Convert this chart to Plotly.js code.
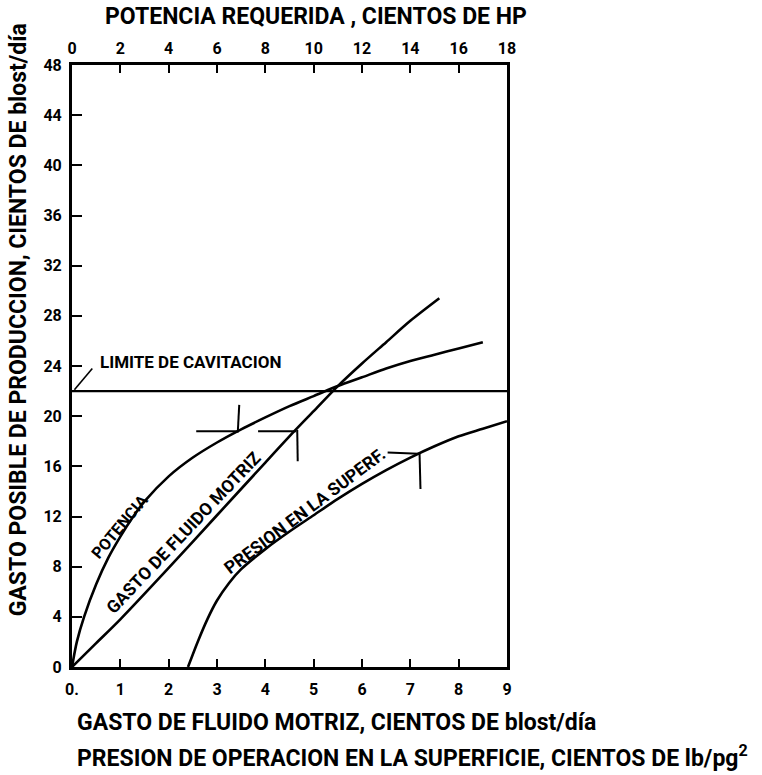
<!DOCTYPE html>
<html>
<head>
<meta charset="utf-8">
<script src="https://cdn.plot.ly/plotly-3.0.1.min.js"></script>
<style>html,body{margin:0;padding:0;background:#fff;}#chart{width:762px;height:775px;}</style>
</head>
<body>
<div id="chart"></div>
<script>
// Potencia requerida (top axis, cientos de HP) vs gasto posible
const potenciaHP = [0, 0.2, 0.5, 1.0, 1.5, 2.0, 2.5, 3.0, 4.0, 5.0, 6.0, 7.0, 8.0, 9.0, 10.0, 11.0, 12.0, 13.0, 14.0, 15.0, 16.0, 17.0];
const potenciaY  = [0, 2.0, 4.0, 6.6, 8.7, 10.4, 11.9, 13.2, 15.2, 16.7, 17.9, 18.95, 19.9, 20.8, 21.6, 22.4, 23.1, 23.8, 24.4, 24.9, 25.4, 25.9];
// Gasto de fluido motriz (bottom axis)
const gastoX = [0, 0.5, 1, 2, 3, 4, 4.6, 5, 5.5, 6, 6.5, 7, 7.6];
const gastoY = [0, 1.9, 3.8, 7.9, 12.1, 16.3, 18.8, 20.4, 22.4, 24.2, 25.9, 27.6, 29.4];
// Presion de operacion en la superficie (bottom axis)
const presionX = [2.4, 2.6, 2.8, 3.0, 3.25, 3.5, 4.0, 4.5, 5.0, 5.5, 6.0, 6.5, 7.0, 7.5, 8.0, 8.5, 9.0];
const presionY = [0, 2.0, 3.8, 5.3, 6.7, 7.8, 9.4, 10.8, 12.1, 13.4, 14.6, 15.7, 16.7, 17.6, 18.4, 19.0, 19.6];
// Limite de cavitacion
const cavitacionX = [0, 9];
const cavitacionY = [22, 22];
const leaderX = [0.05, 0.42];
const leaderY = [22.1, 23.8];
// Operating point markers
const mark1X = [2.57, 3.43, null, 3.43, 3.46];
const mark1Y = [18.8, 18.8, null, 18.7, 20.9];
const mark2X = [3.85, 4.64, null, 4.66, 4.67];
const mark2Y = [18.8, 18.8, null, 18.9, 16.4];
const mark3X = [6.53, 7.17, null, 7.19, 7.21];
const mark3Y = [17.1, 17.0, null, 17.1, 14.2];
// Axis ticks
const bottomTicks = [0, 1, 2, 3, 4, 5, 6, 7, 8, 9];
const bottomTickText = ["0.", "1", "2", "3", "4", "5", "6", "7", "8", "9"];
const topTicks = [0, 2, 4, 6, 8, 10, 12, 14, 16, 18];
const yTicks = [0, 4, 8, 12, 16, 20, 24, 28, 32, 36, 40, 44, 48];

const FONT = "Roboto, 'Noto Sans', 'DejaVu Sans', sans-serif";
const line = {color: '#000', width: 2.6};

const traces = [
  {x: potenciaHP, y: potenciaY, xaxis: 'x2', yaxis: 'y', mode: 'lines', line: Object.assign({shape: 'spline', smoothing: 0.8}, line), hoverinfo: 'skip'},
  {x: gastoX, y: gastoY, mode: 'lines', line: Object.assign({shape: 'spline', smoothing: 0.8}, line), hoverinfo: 'skip'},
  {x: presionX, y: presionY, mode: 'lines', line: Object.assign({shape: 'spline', smoothing: 0.8}, line), hoverinfo: 'skip'},
  {x: cavitacionX, y: cavitacionY, mode: 'lines', line: {color: '#000', width: 2.2}, hoverinfo: 'skip'},
  {x: leaderX, y: leaderY, mode: 'lines', line: {color: '#000', width: 1.6}, hoverinfo: 'skip'},
  {x: mark1X, y: mark1Y, mode: 'lines', line: {color: '#000', width: 2}, hoverinfo: 'skip', connectgaps: false},
  {x: mark2X, y: mark2Y, mode: 'lines', line: {color: '#000', width: 2}, hoverinfo: 'skip', connectgaps: false},
  {x: mark3X, y: mark3Y, mode: 'lines', line: {color: '#000', width: 2}, hoverinfo: 'skip', connectgaps: false}
];

const tickFont = {family: FONT, size: 16, color: '#000', weight: 'bold'};
const titleFont = {family: FONT, size: 23, color: '#000', weight: 'bold'};
const lblFont = {family: FONT, size: 17.5, color: '#000', weight: 'bold'};
const layout = {
  width: 762, height: 775,
  margin: {l: 72, r: 255, t: 65, b: 108, pad: 0},
  paper_bgcolor: '#fff', plot_bgcolor: '#fff',
  showlegend: false,
  xaxis: {
    range: [0, 9], tickvals: bottomTicks, ticktext: bottomTickText,
    ticks: 'inside', ticklen: 8, tickwidth: 2, tickcolor: '#000',
    showline: true, linewidth: 3, linecolor: '#000', mirror: false,
    showgrid: false, zeroline: false, tickfont: tickFont, ticklabelstandoff: 6
  },
  xaxis2: {
    range: [0, 18], tickvals: topTicks, overlaying: 'x', side: 'top', anchor: 'y',
    ticks: 'inside', ticklen: 8, tickwidth: 2, tickcolor: '#000',
    showline: true, linewidth: 3, linecolor: '#000',
    showgrid: false, zeroline: false, tickfont: tickFont, ticklabelstandoff: 2
  },
  yaxis: {
    range: [0, 48], tickvals: yTicks,
    ticks: 'inside', ticklen: 10, tickwidth: 2, tickcolor: '#000',
    showline: true, linewidth: 3, linecolor: '#000', mirror: true,
    showgrid: false, zeroline: false, tickfont: tickFont, ticklabelstandoff: 4
  },
  annotations: [
    {text: 'POTENCIA REQUERIDA , CIENTOS DE HP', xref: 'paper', yref: 'paper', x: 0.561, y: 1.08,
     xanchor: 'center', yanchor: 'middle', showarrow: false, font: titleFont},
    {text: 'GASTO POSIBLE DE PRODUCCION, CIENTOS DE blost/día', xref: 'paper', yref: 'paper', x: -0.124, y: 0.576,
     xanchor: 'center', yanchor: 'middle', textangle: -90, showarrow: false, font: titleFont},
    {text: 'GASTO DE FLUIDO MOTRIZ, CIENTOS DE blost/día', xref: 'paper', yref: 'paper', x: 0.007, y: -0.0914,
     xanchor: 'left', yanchor: 'middle', showarrow: false, font: titleFont},
    {text: 'PRESION DE OPERACION EN LA SUPERFICIE, CIENTOS DE lb/pg<sup>2</sup>', xref: 'paper', yref: 'paper', x: 0.007, y: -0.1495,
     xanchor: 'left', yanchor: 'middle', showarrow: false, font: titleFont},
    {text: 'LIMITE DE CAVITACION', x: 0.54, y: 24.3, xanchor: 'left', yanchor: 'middle', showarrow: false,
     font: {family: FONT, size: 17, color: '#000', weight: 'bold'}},
    {text: 'POTENCIA', x: 0.99, y: 11.2, textangle: -50, showarrow: false,
     font: {family: FONT, size: 16, color: '#000', weight: 'bold'}},
    {text: 'GASTO DE FLUIDO MOTRIZ', x: 2.30, y: 10.7, textangle: -46.5, showarrow: false, font: lblFont},
    {text: 'PRESION EN LA SUPERF.', x: 4.82, y: 12.4, textangle: -37, showarrow: false, font: lblFont}
  ]
};

Plotly.newPlot('chart', traces, layout, {staticPlot: true, displayModeBar: false});
</script>
</body>
</html>
